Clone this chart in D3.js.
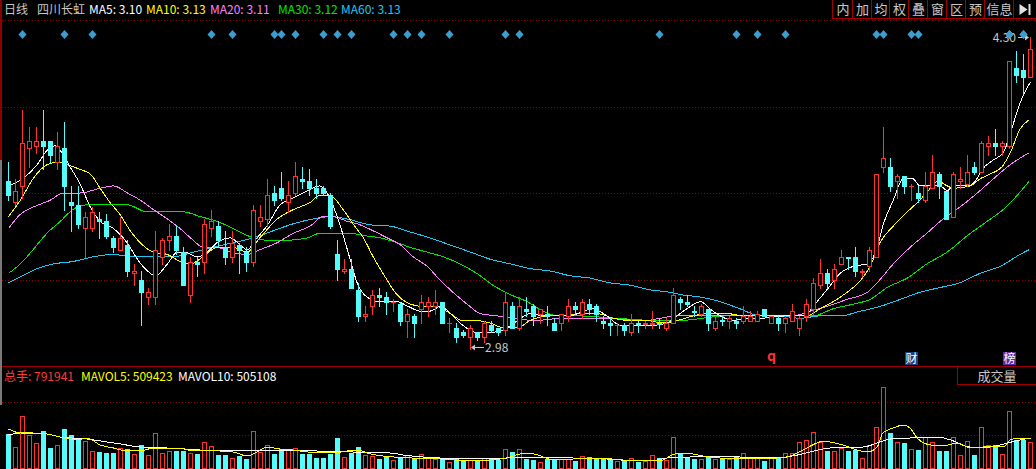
<!DOCTYPE html>
<html><head><meta charset="utf-8">
<script src="https://cdn.jsdelivr.net/npm/d3@7/dist/d3.min.js"></script>
<style>
html,body{margin:0;padding:0;background:#000;overflow:hidden}
svg{display:block}
text{font-family:"Noto Sans CJK SC","DejaVu Sans",sans-serif}
</style></head><body>
<svg id="c" width="1036" height="469"></svg>
<script>
// ---------------- DATA ----------------
const stockName = "四川长虹";
const period = "日线";
const maNames = ["MA5","MA10","MA20","MA30","MA60"];
const maLast = ["3.10","3.13","3.11","3.12","3.13"];
const volNames = ["总手","MAVOL5","MAVOL10"];
const volLast = ["791941","509423","505108"];
const buttons = ["内","加","均","权","叠","窗","区","预","信息","▶|"];
const highLabel = "4.30", lowLabel = "2.98";
const highDay = 146, lowDay = 66;

const open = [3.69,3.60,3.67,3.83,3.84,3.86,3.86,3.77,3.83,3.60,
3.59,3.49,3.49,3.53,3.52,3.45,3.40,3.42,3.30,3.27,
3.20,3.20,3.37,3.44,3.46,3.39,3.21,3.35,3.35,3.49,
3.50,3.41,3.37,3.42,3.39,3.35,3.52,3.53,3.64,3.66,
3.60,3.64,3.70,3.69,3.66,3.66,3.63,3.38,3.31,3.32,
3.23,3.12,3.16,3.21,3.20,3.18,3.17,3.10,3.12,3.15,
3.16,3.16,3.18,3.09,3.07,3.05,3.03,3.05,3.03,3.08,
3.07,3.06,3.16,3.07,3.15,3.16,3.13,3.13,3.09,3.09,
3.12,3.16,3.13,3.17,3.16,3.10,3.09,3.08,3.08,3.05,
3.090,3.086,3.086,3.090,3.07,3.09,3.19,3.18,3.141,3.13,
3.15,3.07,3.103,3.099,3.10,3.10,3.10,3.10,3.15,3.09,
3.11,3.09,3.10,3.07,3.12,3.15,3.25,3.30,3.27,3.34,
3.37,3.37,3.306,3.33,3.37,3.75,3.75,3.69,3.71,3.668,
3.64,3.61,3.66,3.72,3.65,3.54,3.69,3.68,3.75,3.73,
3.84,3.85,3.84,3.84,4.17,4.16,4.13];
const high = [3.77,3.70,3.99,3.92,3.92,3.99,3.86,3.90,3.94,3.67,
3.67,3.56,3.58,3.56,3.55,3.46,3.54,3.44,3.34,3.31,
3.24,3.48,3.45,3.51,3.50,3.41,3.37,3.37,3.53,3.57,
3.52,3.48,3.48,3.43,3.41,3.59,3.59,3.70,3.67,3.73,
3.69,3.77,3.75,3.74,3.70,3.67,3.64,3.44,3.36,3.36,
3.26,3.16,3.23,3.24,3.22,3.19,3.18,3.15,3.13,3.21,
3.20,3.23,3.18,3.11,3.09,3.06,3.08,3.05,3.10,3.10,
3.07,3.22,3.18,3.20,3.20,3.17,3.15,3.16,3.11,3.13,
3.19,3.18,3.19,3.19,3.17,3.12,3.11,3.09,3.09,3.13,
3.10,3.10,3.14,3.11,3.11,3.24,3.20,3.21,3.16,3.17,
3.15,3.12,3.12,3.12,3.11,3.16,3.14,3.14,3.15,3.12,
3.12,3.12,3.17,3.12,3.19,3.28,3.36,3.32,3.34,3.40,
3.37,3.41,3.32,3.41,3.72,3.92,3.79,3.72,3.71,3.68,
3.67,3.73,3.80,3.73,3.65,3.73,3.75,3.80,3.77,3.86,
3.88,3.91,3.86,4.20,4.24,4.23,4.30];
const low = [3.61,3.59,3.62,3.75,3.81,3.74,3.77,3.74,3.57,3.48,
3.49,3.37,3.48,3.45,3.45,3.39,3.40,3.29,3.25,3.08,
3.17,3.17,3.34,3.40,3.38,3.25,3.18,3.29,3.30,3.46,
3.41,3.34,3.35,3.30,3.31,3.33,3.50,3.50,3.59,3.61,
3.56,3.63,3.66,3.63,3.62,3.63,3.49,3.27,3.30,3.24,
3.10,3.10,3.13,3.16,3.13,3.14,3.08,3.03,3.03,3.09,
3.12,3.13,3.09,3.05,3.01,3.03,2.98,3.02,3.01,3.05,
3.04,3.04,3.07,3.06,3.12,3.08,3.09,3.08,3.06,3.06,
3.10,3.13,3.11,3.13,3.10,3.07,3.04,3.04,3.04,3.04,
3.05,3.07,3.07,3.07,3.06,3.09,3.15,3.16,3.12,3.12,
3.06,3.06,3.08,3.07,3.07,3.09,3.10,3.10,3.12,3.09,
3.06,3.05,3.10,3.04,3.10,3.13,3.24,3.24,3.24,3.34,
3.32,3.29,3.29,3.31,3.37,3.73,3.65,3.62,3.64,3.61,
3.60,3.60,3.66,3.62,3.53,3.54,3.66,3.67,3.72,3.73,
3.80,3.80,3.80,3.83,4.11,4.06,4.13];
const close = [3.63,3.65,3.85,3.86,3.86,3.84,3.80,3.84,3.67,3.59,
3.51,3.54,3.56,3.52,3.46,3.41,3.45,3.31,3.31,3.22,
3.22,3.40,3.44,3.46,3.40,3.25,3.35,3.34,3.51,3.52,
3.44,3.37,3.43,3.40,3.35,3.57,3.54,3.63,3.61,3.62,
3.63,3.71,3.69,3.66,3.64,3.64,3.50,3.32,3.32,3.24,
3.12,3.13,3.21,3.20,3.18,3.18,3.10,3.13,3.09,3.18,
3.18,3.18,3.09,3.09,3.03,3.04,3.07,3.03,3.09,3.06,
3.05,3.18,3.07,3.16,3.14,3.12,3.15,3.12,3.06,3.13,
3.16,3.15,3.18,3.15,3.13,3.09,3.08,3.08,3.06,3.09,
3.086,3.090,3.090,3.086,3.09,3.21,3.18,3.17,3.137,3.16,
3.09,3.10,3.099,3.111,3.09,3.12,3.12,3.13,3.12,3.12,
3.09,3.11,3.14,3.11,3.17,3.26,3.30,3.26,3.32,3.37,
3.365,3.31,3.31,3.40,3.72,3.79,3.67,3.71,3.67,3.670,
3.62,3.67,3.73,3.67,3.53,3.72,3.70,3.73,3.73,3.85,
3.85,3.84,3.85,4.20,4.14,4.13,4.25];
// volume, thousands of lots
const volume = [1024,623,1566,1003,744,1114,602,683,1174,985,
864,804,503,482,452,452,593,563,413,693,
382,1054,452,512,512,512,443,413,774,662,
382,382,301,361,271,1114,491,683,413,563,
572,593,413,413,292,310,422,903,322,461,
623,400,370,262,322,241,322,382,292,422,
310,271,241,181,262,232,241,232,292,262,
232,563,482,563,271,241,172,280,232,271,
280,211,352,322,262,262,262,202,241,292,
181,202,382,292,241,924,443,301,262,262,
322,262,262,262,322,443,292,292,211,292,
322,443,443,774,834,1084,792,512,512,611,
512,542,292,693,1225,2430,1045,783,762,572,
542,933,783,512,512,933,382,813,382,1225,
693,693,413,1725,843,843,791.941];

// moving averages: [day, value]
const ma5 = [[0,3.67],[2,3.70],[4.1,3.76],[5.5,3.82],[6.7,3.84],[7.4,3.82],[8.8,3.75],[10.2,3.68],[11.7,3.58],[13.1,3.52],[15,3.49],[16.4,3.45],[19.2,3.33],[21,3.29],[22.7,3.34],[24.1,3.39],[25.2,3.39],[27,3.37],[28.4,3.39],[29.8,3.43],[31.7,3.45],[33.1,3.42],[34.1,3.40],[35.5,3.45],[36.9,3.50],[38.8,3.59],[40.7,3.62],[42.1,3.64],[44.5,3.67],[45.9,3.62],[47.4,3.50],[48.8,3.36],[49.8,3.26],[51.2,3.20],[53.1,3.18],[55.5,3.18],[57.1,3.16],[58.8,3.14],[60.2,3.14],[61.7,3.16],[63.5,3.12],[64.9,3.08],[66.9,3.05],[68.8,3.05],[70.7,3.06],[72.7,3.10],[74.5,3.13],[76.4,3.12],[78.4,3.12],[80.2,3.12],[82.1,3.14],[83.5,3.15],[85.5,3.12],[87.4,3.08],[89.8,3.08],[92.1,3.08],[94.1,3.09],[95.5,3.12],[96.9,3.15],[98.9,3.18],[100.2,3.15],[101.7,3.12],[103.5,3.10],[105.5,3.11],[107.4,3.11],[111.2,3.12],[113.1,3.12],[114.1,3.13],[115.5,3.18],[116.9,3.23],[118.8,3.30],[120.7,3.33],[122.7,3.34],[124.1,3.41],[124.9,3.50],[126.4,3.61],[127.8,3.70],[129.2,3.70],[130.2,3.67],[132.1,3.67],[133.1,3.67],[134.1,3.65],[135,3.67],[137,3.67],[138.1,3.69],[139.1,3.74],[140.7,3.78],[142.1,3.81],[143.4,3.92],[144.5,4.02],[146,4.11]];
const ma10 = [[0,3.54],[1.7,3.61],[3.5,3.70],[5.5,3.76],[7,3.77],[8.4,3.76],[10.2,3.74],[11.7,3.72],[13.1,3.66],[14.5,3.60],[15.9,3.55],[17.4,3.48],[18.8,3.43],[20.7,3.39],[22.7,3.38],[24.5,3.35],[26,3.34],[27.8,3.37],[29.8,3.41],[32.1,3.41],[34.1,3.39],[35.9,3.45],[38.4,3.53],[40.7,3.57],[43.1,3.60],[44.5,3.63],[45.9,3.63],[47.8,3.57],[49.2,3.51],[50.7,3.45],[52.1,3.37],[53.5,3.30],[55.5,3.21],[57.4,3.17],[59.2,3.16],[61.2,3.16],[63.1,3.13],[64.9,3.10],[66.9,3.10],[68.8,3.09],[70.7,3.07],[72.7,3.07],[74.5,3.10],[76.9,3.12],[79.2,3.12],[81.7,3.13],[84.1,3.13],[86.4,3.11],[88.8,3.10],[91.2,3.10],[93.5,3.09],[95.5,3.10],[97.8,3.12],[100.2,3.13],[102.7,3.13],[104.9,3.12],[107.4,3.12],[112.1,3.12],[114.1,3.12],[115.9,3.15],[117.8,3.18],[119.8,3.22],[121.7,3.27],[123.1,3.33],[124.5,3.43],[126.4,3.50],[128.4,3.56],[130.2,3.61],[131.7,3.66],[132.8,3.69],[134.1,3.67],[135,3.66],[137.4,3.67],[138.8,3.70],[140.2,3.72],[141.9,3.75],[143.1,3.81],[144.5,3.91],[145.8,3.95]];
const ma20 = [[0,3.49],[1.7,3.55],[3.5,3.58],[6,3.61],[7.8,3.64],[10.2,3.64],[13.1,3.66],[15,3.67],[17,3.64],[18.8,3.61],[20.7,3.57],[22.7,3.53],[24.5,3.49],[26.4,3.44],[27.8,3.41],[29.8,3.41],[31.7,3.39],[34.1,3.38],[35.9,3.40],[38.4,3.43],[40.7,3.47],[43.1,3.50],[44.9,3.54],[46.4,3.54],[48.4,3.52],[49.8,3.51],[52.1,3.48],[54.1,3.45],[56,3.42],[57.8,3.37],[59.8,3.33],[61.7,3.27],[63.5,3.22],[65.5,3.17],[67.4,3.13],[69.8,3.12],[72.7,3.11],[75,3.10],[79.2,3.11],[84.9,3.11],[90.7,3.10],[95.5,3.12],[97.8,3.12],[107.4,3.12],[112.1,3.12],[114.5,3.14],[116.9,3.16],[119.8,3.19],[122.7,3.22],[124.1,3.26],[126.4,3.34],[128.8,3.41],[131.2,3.47],[133.5,3.53],[135.9,3.58],[138.4,3.64],[140.7,3.70],[143.1,3.76],[145.8,3.81]];
const ma30 = [[0,3.30],[1.7,3.34],[3.5,3.40],[5.5,3.47],[7.4,3.52],[9.2,3.57],[11.2,3.59],[14.1,3.59],[17,3.59],[19.8,3.56],[22.7,3.56],[25,3.56],[27.4,3.54],[29.8,3.52],[32.1,3.49],[34.1,3.46],[36.9,3.44],[39.8,3.44],[42.7,3.45],[44.5,3.47],[48.8,3.47],[50.7,3.46],[53.1,3.45],[55.5,3.43],[57.4,3.41],[59.8,3.39],[62.1,3.37],[64.5,3.34],[66.9,3.30],[69.2,3.25],[71.7,3.21],[74.1,3.18],[76.4,3.14],[78.4,3.12],[81.2,3.12],[86.9,3.11],[92.7,3.10],[95.5,3.10],[102.7,3.12],[112.1,3.12],[114.9,3.12],[117.8,3.15],[120.7,3.17],[123.1,3.19],[125.5,3.24],[128.4,3.28],[131.2,3.34],[134.1,3.39],[137,3.46],[139.8,3.52],[142.1,3.57],[144.1,3.63],[145.8,3.69]];
const ma60 = [[0,3.26],[1.7,3.285],[4.1,3.32],[6.4,3.34],[9.2,3.35],[12.1,3.37],[15,3.38],[17.8,3.37],[23.5,3.37],[26.4,3.39],[29.2,3.41],[32.1,3.43],[35,3.45],[37.8,3.48],[40.7,3.51],[43.5,3.53],[45.9,3.54],[48.4,3.53],[51.7,3.505],[54.5,3.50],[57.4,3.475],[60.2,3.45],[63.1,3.42],[66,3.39],[68.8,3.36],[71.7,3.34],[74.5,3.32],[77.4,3.31],[80.2,3.29],[83.1,3.28],[85.9,3.26],[88.8,3.25],[91.7,3.23],[94.5,3.22],[96,3.21],[98.8,3.20],[101.7,3.18],[104.5,3.15],[107.4,3.12],[110.2,3.12],[113.1,3.11],[115.9,3.12],[118.8,3.12],[121.7,3.14],[124.5,3.16],[127.4,3.19],[130.2,3.22],[133.1,3.24],[135.9,3.26],[138.8,3.30],[141.7,3.33],[144.5,3.38],[145.8,3.40]];
const mavol5 = [[0,1174],[1.7,1054],[3.5,1054],[5.5,1024],[7.4,933],[9.8,843],[11.2,903],[13.1,693],[15,602],[17,512],[18.8,512],[20.7,602],[22.7,602],[24.5,602],[26.4,512],[28.4,542],[30.2,512],[32.1,482],[34.1,361],[35.5,482],[36.9,632],[38.8,572],[40.7,542],[42.7,482],[44.5,452],[46.4,452],[48.4,512],[50,542],[51.2,452],[53.5,361],[56.2,316],[61.7,271],[66.4,211],[68.8,241],[70.2,271],[71.7,331],[73.1,422],[75,422],[76.4,331],[77.8,241],[80.7,271],[84.1,301],[87.8,241],[91.2,211],[93.5,241],[94.5,361],[95.9,452],[97.8,422],[99.2,361],[101.7,301],[103.1,271],[107.4,301],[109.8,301],[111.7,361],[113.5,542],[115.5,753],[116.4,813],[117.4,783],[119.2,693],[121.2,542],[122.7,482],[124.1,632],[124.9,1054],[126.4,1204],[127.8,1295],[128.8,1204],[129.8,903],[131.7,693],[133.5,662],[135.5,753],[137.4,602],[139.2,632],[141.2,662],[142.1,632],[143.1,843],[144.5,903],[146,903]];
const mavol10 = [[0,994],[1.7,1054],[5.5,1024],[7.4,933],[11.2,873],[14.1,783],[16,723],[18.8,632],[22.7,602],[27.4,542],[32.1,512],[35.9,512],[39.2,512],[42.7,542],[45.5,482],[49.2,482],[52.1,452],[54.5,452],[56.4,391],[59.2,331],[61.7,301],[66.4,271],[71.2,301],[75.9,331],[80.7,301],[85.5,271],[90.2,211],[92.7,241],[95,331],[97.4,331],[101.7,361],[104.5,331],[109.8,301],[112.7,391],[114.5,482],[116.4,572],[119.2,632],[122.1,632],[124.1,753],[126,873],[128.8,903],[132.7,933],[134.6,843],[137.4,632],[140.2,632],[142.7,753],[144.5,843],[146,903]];
const signalDays = [2,8,12,29,32,38,39,41,45,47,49,55,57,59,63,71,73,93,104,107,111,124,125,129,130,143,145];
const eventMarks = [{day:109,txt:"q",kind:"q"},{day:129,txt:"财",kind:"cai"},{day:143,txt:"榜",kind:"bang"}];

// ---------------- DRAW ----------------
const W = 1036, H = 469;
const svg = d3.select("#c");
svg.append("rect").attr("width",W).attr("height",H).attr("fill","#000");

const RED = "#FF3232", CYAN = "#54FCFC", GRID = "#8C0000", BORDER = "#A00000";
const maColors = ["#FFFFFF","#FFFF00","#FF80FF","#00E600","#1EC8F0"];

const x = d3.scaleLinear().domain([0,146]).range([8,1030]);
const y = d3.scaleLinear().domain([2.98,4.30]).range([349,37]);
const vy = d3.scaleLinear().domain([0,2400]).range([468,388.3]);

const priceTop = 20, priceBottom = 366;

// left scroll strip
svg.append("rect").attr("x",0).attr("y",0).attr("width",2).attr("height",160).attr("fill","#8B0000");
svg.append("rect").attr("x",0).attr("y",160).attr("width",2).attr("height",245).attr("fill","#7A7A7A");

// dotted grid lines
const pGrid = d3.range(4).map(k => priceTop + k*(priceBottom-priceTop)/4);
svg.append("g").selectAll("line").data(pGrid).join("line")
  .attr("x1",2).attr("x2",W).attr("y1",d=>Math.round(d)+0.5).attr("y2",d=>Math.round(d)+0.5)
  .attr("stroke",GRID).attr("stroke-dasharray","1,2").attr("shape-rendering","crispEdges");
svg.append("g").selectAll("line").data(vy.ticks(2).filter(t=>t>0)).join("line")
  .attr("x1",2).attr("x2",W).attr("y1",d=>Math.round(vy(d))+0.5).attr("y2",d=>Math.round(vy(d))+0.5)
  .attr("stroke",GRID).attr("stroke-dasharray","1,2").attr("shape-rendering","crispEdges");

// panel separator
svg.append("line").attr("x1",2).attr("x2",W).attr("y1",priceBottom+0.5).attr("y2",priceBottom+0.5)
  .attr("stroke",BORDER).attr("shape-rendering","crispEdges");

// header texts
const hdr = svg.append("g").attr("font-size",12);
hdr.append("text").attr("x",4).attr("y",14).attr("fill","#C8C8C8").text(period);
hdr.append("text").attr("x",37).attr("y",14).attr("fill","#C8C8C8").text(stockName);
const maX = [89,146,210,278,341];
maNames.forEach((n,k)=>{
  hdr.append("text").attr("x",maX[k]).attr("y",14).attr("fill",maColors[k]).text(n+": "+maLast[k]);
});

// buttons
const btnEdges = [832,852,871,889,908,927,946,965,984,1013,1036];
const btnG = svg.append("g");
btnG.append("line").attr("x1",832).attr("x2",1036).attr("y1",18.5).attr("y2",18.5).attr("stroke",BORDER).attr("shape-rendering","crispEdges");
btnEdges.slice(0,-1).forEach(e=>{
  btnG.append("line").attr("x1",e+0.5).attr("x2",e+0.5).attr("y1",0).attr("y2",19).attr("stroke",BORDER).attr("shape-rendering","crispEdges");
});
buttons.forEach((b,k)=>{
  const cx = (btnEdges[k]+btnEdges[k+1])/2 + 1;
  if (b === "▶|") {
    btnG.append("path").attr("d",`M${cx-6},4 L${cx+2},9.5 L${cx-6},15 Z`).attr("fill","#E0E0E0");
    btnG.append("rect").attr("x",cx+3).attr("y",4).attr("width",2).attr("height",11).attr("fill","#E0E0E0");
  } else {
    btnG.append("text").attr("x",cx).attr("y",14).attr("text-anchor","middle").attr("font-size",13).attr("fill","#C8C8C8").text(b);
  }
});

// signal diamonds
svg.append("g").selectAll("path").data(signalDays).join("path")
  .attr("d",d=>{const c=x(d)+0.5; return `M${c},30 L${c+4},34.5 L${c},39 L${c-4},34.5 Z`;})
  .attr("fill","#3A9FD0");

// MA lines
const line = d3.line().x(d=>x(d[0])+0.5).y(d=>y(d[1])).curve(d3.curveMonotoneX);
[ma60,ma30,ma20,ma10,ma5].forEach((arr,k)=>{
  svg.append("path").datum(arr).attr("d",line).attr("fill","none")
    .attr("stroke",maColors[4-k]).attr("stroke-width",1).attr("shape-rendering","crispEdges");
});

// candles
const days = d3.range(open.length);
const cg = svg.append("g").attr("shape-rendering","crispEdges");
days.forEach(i=>{
  const cx = x(i);
  const up = close[i] >= open[i];
  const col = up ? RED : CYAN;
  const yo = Math.round(y(open[i])), yc = Math.round(y(close[i]));
  const yh = Math.round(y(high[i])), yl = Math.round(y(low[i]));
  const top = Math.min(yo,yc), bot = Math.max(yo,yc);
  cg.append("line").attr("x1",cx+0.5).attr("x2",cx+0.5).attr("y1",yh).attr("y2",yl+1).attr("stroke",col);
  if (bot - top < 1) {
    cg.append("line").attr("x1",cx-2).attr("x2",cx+3).attr("y1",top+0.5).attr("y2",top+0.5).attr("stroke",col);
  } else if (up) {
    cg.append("rect").attr("x",cx-1.5).attr("y",top+0.5).attr("width",4).attr("height",bot-top)
      .attr("fill","#000").attr("stroke",col);
  } else {
    cg.append("rect").attr("x",cx-2).attr("y",top).attr("width",5).attr("height",bot-top+1).attr("fill",col);
  }
});

// high / low labels
const hx = x(highDay), hy = Math.round(y(high[highDay]));
svg.append("line").attr("x1",hx-12).attr("x2",hx-2).attr("y1",hy+0.5).attr("y2",hy+0.5).attr("stroke","#C8C8C8");
svg.append("path").attr("d",`M${hx-1},${hy+0.5} L${hx-5},${hy-2.5} L${hx-5},${hy+3.5} Z`).attr("fill","#C8C8C8");
svg.append("text").attr("x",hx-14).attr("y",hy+5).attr("text-anchor","end").attr("font-size",12).attr("fill","#C8C8C8").text(highLabel);
svg.append("g").selectAll("path").data(signalDays.filter(d=>d>=140)).join("path")
  .attr("d",d=>{const c=x(d)+0.5; return `M${c},30 L${c+4},34.5 L${c},39 L${c-4},34.5 Z`;})
  .attr("fill","#3A9FD0");

const lx = x(lowDay), ly = Math.round(y(low[lowDay])) - 2;
svg.append("line").attr("x1",lx+2).attr("x2",lx+14).attr("y1",ly+0.5).attr("y2",ly+0.5).attr("stroke","#C8C8C8");
svg.append("path").attr("d",`M${lx+1},${ly+0.5} L${lx+5},${ly-2.5} L${lx+5},${ly+3.5} Z`).attr("fill","#C8C8C8");
svg.append("text").attr("x",lx+15).attr("y",ly+5).attr("font-size",12).attr("fill","#C8C8C8").text(lowLabel);

// event marks
eventMarks.forEach(m=>{
  const cx = x(m.day);
  if (m.kind === "q") {
    svg.append("text").attr("x",cx+0.5).attr("y",361).attr("text-anchor","middle").attr("font-size",14)
      .attr("font-weight","bold").attr("font-family","DejaVu Sans").attr("fill","#FF3030").text(m.txt);
  } else {
    svg.append("rect").attr("x",cx-6).attr("y",352).attr("width",13).attr("height",13)
      .attr("fill", m.kind==="cai" ? "#1F3F7A" : "#5A2AA8");
    svg.append("text").attr("x",cx+0.5).attr("y",363).attr("text-anchor","middle").attr("font-size",12)
      .attr("fill","#FFFFFF").text(m.txt);
  }
});

// volume header
const vh = svg.append("g").attr("font-size",12);
const vX = [4,81,178], vCol = ["#FF3C3C","#FFFF00","#FFFFFF"];
volNames.forEach((n,k)=>{
  vh.append("text").attr("x",vX[k]).attr("y",381).attr("fill",vCol[k]).text(n+": "+volLast[k]);
});
svg.append("rect").attr("x",957.5).attr("y",366.5).attr("width",80).attr("height",18)
  .attr("fill","none").attr("stroke",BORDER).attr("shape-rendering","crispEdges");
svg.append("text").attr("x",997).attr("y",381).attr("text-anchor","middle").attr("font-size",13)
  .attr("fill","#C8C8C8").text("成交量");

// volume bars
const vg = svg.append("g").attr("shape-rendering","crispEdges");
days.forEach(i=>{
  const cx = x(i);
  const up = close[i] >= open[i];
  const top = Math.round(vy(volume[i]));
  const base = 468;
  if (up) {
    vg.append("rect").attr("x",cx-1.5).attr("y",top+0.5).attr("width",4).attr("height",base-top)
      .attr("fill","#000").attr("stroke",RED);
  } else {
    vg.append("rect").attr("x",cx-2).attr("y",top).attr("width",5).attr("height",H-top).attr("fill",CYAN);
  }
});

// volume MAs
const vline = d3.line().x(d=>x(d[0])+0.5).y(d=>vy(d[1])).curve(d3.curveMonotoneX);
svg.append("path").datum(mavol10).attr("d",vline).attr("fill","none").attr("stroke","#FFFFFF").attr("shape-rendering","crispEdges");
svg.append("path").datum(mavol5).attr("d",vline).attr("fill","none").attr("stroke","#FFFF00").attr("shape-rendering","crispEdges");
</script>
</body></html>
